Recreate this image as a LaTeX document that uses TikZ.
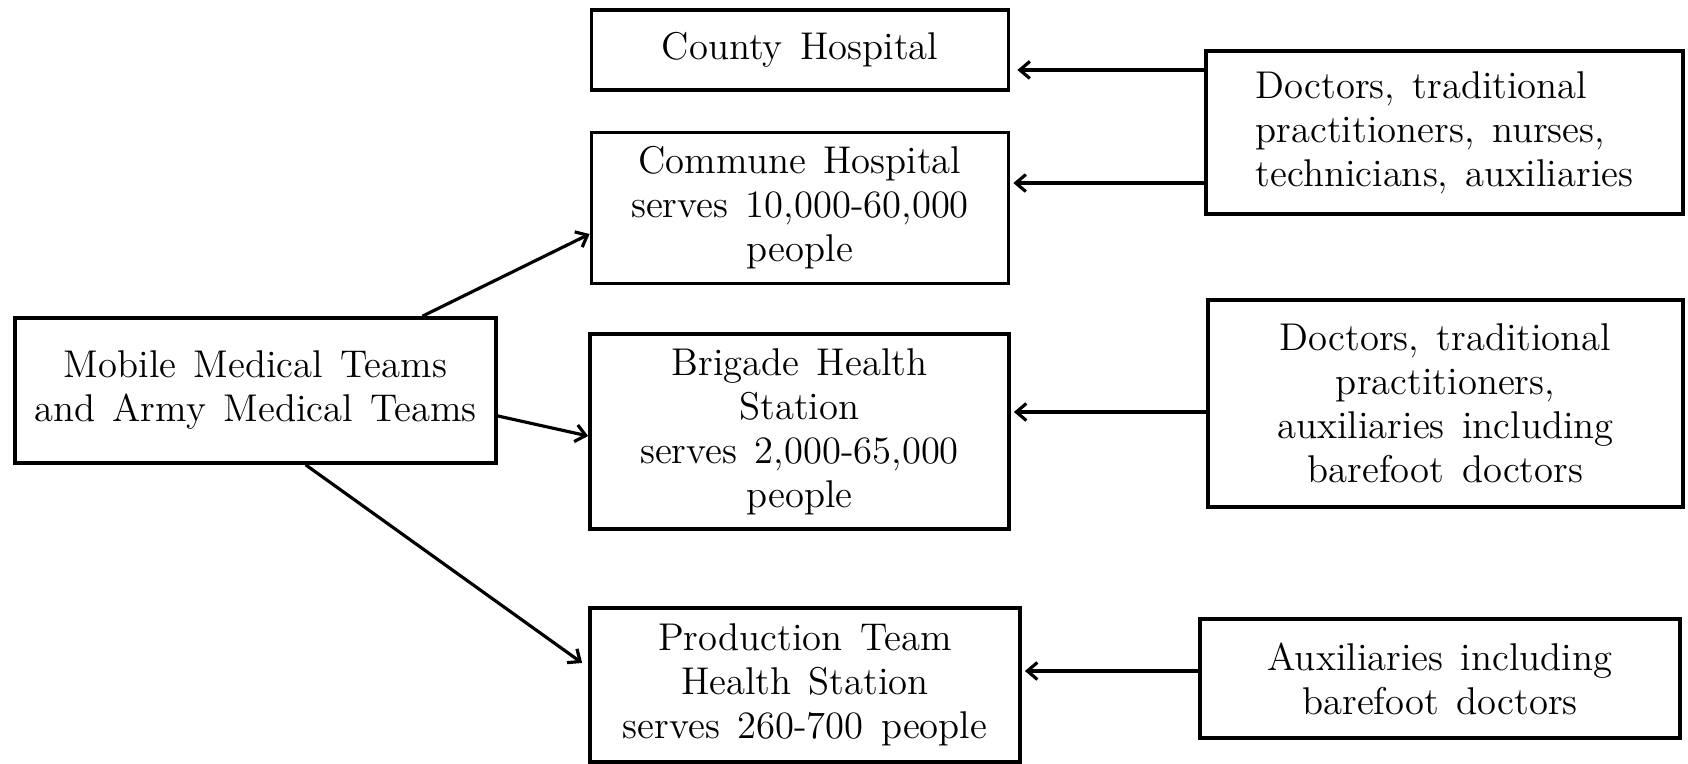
\documentclass[tikz,border=0pt]{standalone}
\usetikzlibrary{positioning, arrows.meta}
\newcommand\boxfont{\fontsize{11}{12.5}\selectfont\spaceskip=0.45em\relax}
\tikzset{
    arrow/.style={draw, line width=0.9pt, -{Straight Barb[length=1mm, width=1.7mm]}},
    block/.style={shape=rectangle, draw, line width=1pt, inner sep=2pt, align=center, font=\boxfont}
}

\begin{document}
\begin{tikzpicture}[x=0.01cm, y=-0.01cm]
    \useasboundingbox (0,0) rectangle (1688,764);

    % levels in the middle
    \node [block, minimum width=4.17cm, minimum height=0.80cm] at (800,50)    (county) {County Hospital};
    \node [block, minimum width=4.17cm, minimum height=1.51cm] at (800,208)   (commune) {Commune Hospital\\serves 10,000-60,000\\people};
    \node [block, minimum width=4.19cm, minimum height=1.95cm] at (799.5,431.5) (brigade) {Brigade Health\\Station\\serves 2,000-65,000\\people};
    \node [block, minimum width=4.30cm, minimum height=1.54cm] at (805,685)   (production) {Production Team\\Health Station\\serves 260-700 people};

    % teams on the left
    \node [block, minimum width=4.81cm, minimum height=1.45cm] at (255.5,390.5) (mobile) {Mobile Medical Teams\\and Army Medical Teams};

    % staff on the right
    \node [block, align=left, minimum width=4.77cm, minimum height=1.63cm] at (1444.5,132.5) (stafftop) {Doctors, traditional\\practitioners, nurses,\\technicians, auxiliaries};
    \node [block, minimum width=4.75cm, minimum height=2.07cm] at (1445.5,403.5) (staffmid) {Doctors, traditional\\practitioners,\\auxiliaries including\\barefoot doctors};
    \node [block, minimum width=4.80cm, minimum height=1.19cm] at (1440,678.5)   (staffbot) {Auxiliaries including\\barefoot doctors};

    % start points of the horizontal arrows
    \path ([yshift=6.25mm]stafftop.west)  coordinate (s1);
    \path ([yshift=-5.05mm]stafftop.west) coordinate (s2);
    \path ([yshift=-0.85mm]staffmid.west) coordinate (s3);
    \path ([yshift=0.75mm]staffbot.west)  coordinate (s4);

    % draw arrows
    \begin{scope}[arrow]
        \draw (s1) -- ([xshift=0.7mm]s1 -| county.east);
        \draw (s2) -- ([xshift=0.3mm]s2 -| commune.east);
        \draw (s3) -- ([xshift=0.3mm]s3 -| brigade.east);
        \draw (s4) -- ([xshift=0.3mm]s4 -| production.east);
        \draw (mobile.24.5)  -- ([yshift=-2.6mm]commune.west);
        \draw (mobile.-6.3)  -- ([yshift=-0.45mm]brigade.west);
        \draw (mobile.-56.2) -- ([xshift=-0.6mm, yshift=2.2mm]production.west);
    \end{scope}
\end{tikzpicture}
\end{document}
